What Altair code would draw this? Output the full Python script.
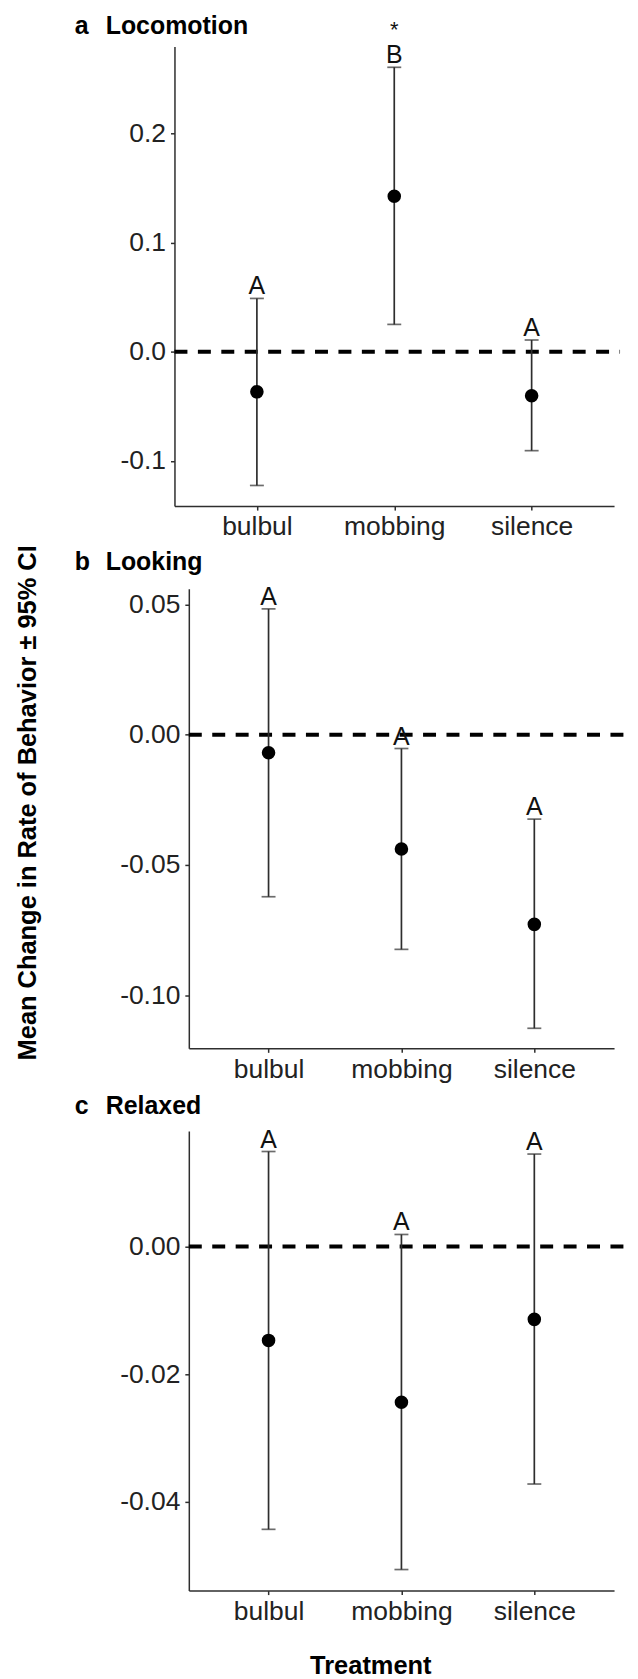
import altair as alt
import pandas as pd

treatments = ["bulbul", "mobbing", "silence"]

loco_mean = [-0.0367, 0.1426, -0.0403]
loco_lo = [-0.1225, 0.0251, -0.0906]
loco_hi = [0.0489, 0.2607, 0.0108]
loco_letters = ["A", "B", "A"]
loco_sig = ["", "*", ""]

look_mean = [-0.0069, -0.0439, -0.0728]
look_lo = [-0.0622, -0.0824, -0.1127]
look_hi = [0.0483, -0.0053, -0.0324]
look_letters = ["A", "A", "A"]

relax_mean = [-0.0147, -0.0244, -0.0114]
relax_lo = [-0.0443, -0.0506, -0.0372]
relax_hi = [0.0149, 0.0019, 0.0145]
relax_letters = ["A", "A", "A"]

panel_letters = ["a", "b", "c"]
panel_names = ["Locomotion", "Looking", "Relaxed"]
y_title = "Mean Change in Rate of Behavior \u00b1 95% CI"
x_title = "Treatment"

FONT = "Liberation Sans, Arial, sans-serif"
W = 441
H = 461
LINE = "#2e2e2e"


def make_panel(mean, lo, hi, letters, sig, domain, ticks, dec, shift, dash_end,
               letter, word, title_y, extra=None):
    df = pd.DataFrame({"treatment": treatments, "mean": mean, "lo": lo,
                       "hi": hi, "letter": letters, "sig": sig})
    xscale = alt.Scale(type="point", padding=0.6, domain=treatments, range=[shift, W])
    xaxis = alt.Axis(title=None, labelAngle=0, labelFontSize=26.5, labelPadding=4,
                     tickSize=4, labelColor="#222222", labelFont=FONT)
    yscale = alt.Scale(domain=domain, nice=False, zero=False)
    fmt = "." + str(dec) + "f"
    yaxis = alt.Axis(title=None, values=ticks, offset=-shift, tickSize=4,
                     labelPadding=5, labelFontSize=26.5, labelColor="#222222",
                     labelFont=FONT, grid=False,
                     labelExpr="datum.value < 0 ? '-' + format(-datum.value, '%s') : format(datum.value, '%s')" % (fmt, fmt))

    def X():
        return alt.X("treatment:N", scale=xscale, axis=xaxis, title=None)

    def Y(field):
        return alt.Y(field, type="quantitative", scale=yscale, axis=yaxis, title=None)

    base = alt.Chart(df)
    one = alt.Chart(pd.DataFrame({"k": [0]}))

    dashed = one.mark_rule(strokeDash=[13, 10.5], strokeWidth=4, color="black").encode(
        x=alt.value(shift), x2=alt.value(dash_end), y=alt.datum(0))
    bars = base.mark_rule(color=LINE, strokeWidth=1.7).encode(x=X(), y=Y("lo"), y2="hi")
    cap_lo = base.mark_tick(color=LINE, size=14, thickness=1.7, orient="horizontal").encode(
        x=X(), y=Y("lo"))
    cap_hi = base.mark_tick(color=LINE, size=14, thickness=1.7, orient="horizontal").encode(
        x=X(), y=Y("hi"))
    pts = base.mark_circle(size=185, color="black", opacity=1).encode(x=X(), y=Y("mean"))
    labs = base.mark_text(fontSize=25, dy=-4, baseline="alphabetic", font=FONT,
                          color="#111111").encode(x=X(), y=Y("hi"), text="letter:N")
    t1 = one.mark_text(text=letter, fontSize=25, fontWeight="bold", align="left",
                       baseline="alphabetic", font=FONT, color="black").encode(
        x=alt.value(-100), y=alt.value(title_y))
    t2 = one.mark_text(text=word, fontSize=25, fontWeight="bold", align="left",
                       baseline="alphabetic", font=FONT, color="black").encode(
        x=alt.value(-69), y=alt.value(title_y))
    layers = [dashed, bars, cap_lo, cap_hi, pts, labs, t1, t2]
    if any(s for s in sig):
        stars = base.mark_text(fontSize=22, dy=-30, baseline="alphabetic", font=FONT,
                               color="#111111").encode(x=X(), y=Y("hi"), text="sig:N")
        layers.append(stars)
    if extra:
        layers.extend(extra)
    return alt.layer(*layers).properties(width=W, height=H)


one_row = alt.Chart(pd.DataFrame({"k": [0]}))
pin = one_row.mark_rule(color="white", strokeWidth=1).encode(
    x=alt.value(-166.5), x2=alt.value(-165.5), y=alt.value(-34.8))
ytitle = one_row.mark_text(text=y_title, angle=270, fontSize=25.5, fontWeight="bold",
                           align="center", baseline="middle", font=FONT, color="black").encode(
    x=alt.value(-147), y=alt.value(214.7))
xtitle = one_row.mark_text(text=x_title, fontSize=25.5, fontWeight="bold",
                           align="center", baseline="middle", font=FONT, color="black").encode(
    x=alt.value(197), y=alt.value(536.7))

pa = make_panel(loco_mean, loco_lo, loco_hi, loco_letters, loco_sig,
                [-0.1414, 0.2797], [-0.1, 0.0, 0.1, 0.2], 1, 0, 447,
                panel_letters[0], panel_names[0], -12.6, extra=[pin])
pb = make_panel(look_mean, look_lo, look_hi, look_letters, ["", "", ""],
                [-0.1204, 0.056], [-0.10, -0.05, 0.0, 0.05], 2, 14.4, 455,
                panel_letters[1], panel_names[1], -19.3, extra=[ytitle])
pc = make_panel(relax_mean, relax_lo, relax_hi, relax_letters, ["", "", ""],
                [-0.0539, 0.0181], [-0.04, -0.02, 0.0], 2, 14.4, 455,
                panel_letters[2], panel_names[2], -17.3, extra=[xtitle])

chart = alt.vconcat(pa, pb, pc, spacing=83, bounds="flush").resolve_scale(
    x="independent", y="independent"
).properties(padding=0).configure_view(strokeWidth=0).configure_axis(
    domainColor=LINE, domainWidth=1.5, tickColor=LINE, tickWidth=1.5, grid=False
)

chart.save("out.html", embed_options={"renderer": "svg", "actions": False})
